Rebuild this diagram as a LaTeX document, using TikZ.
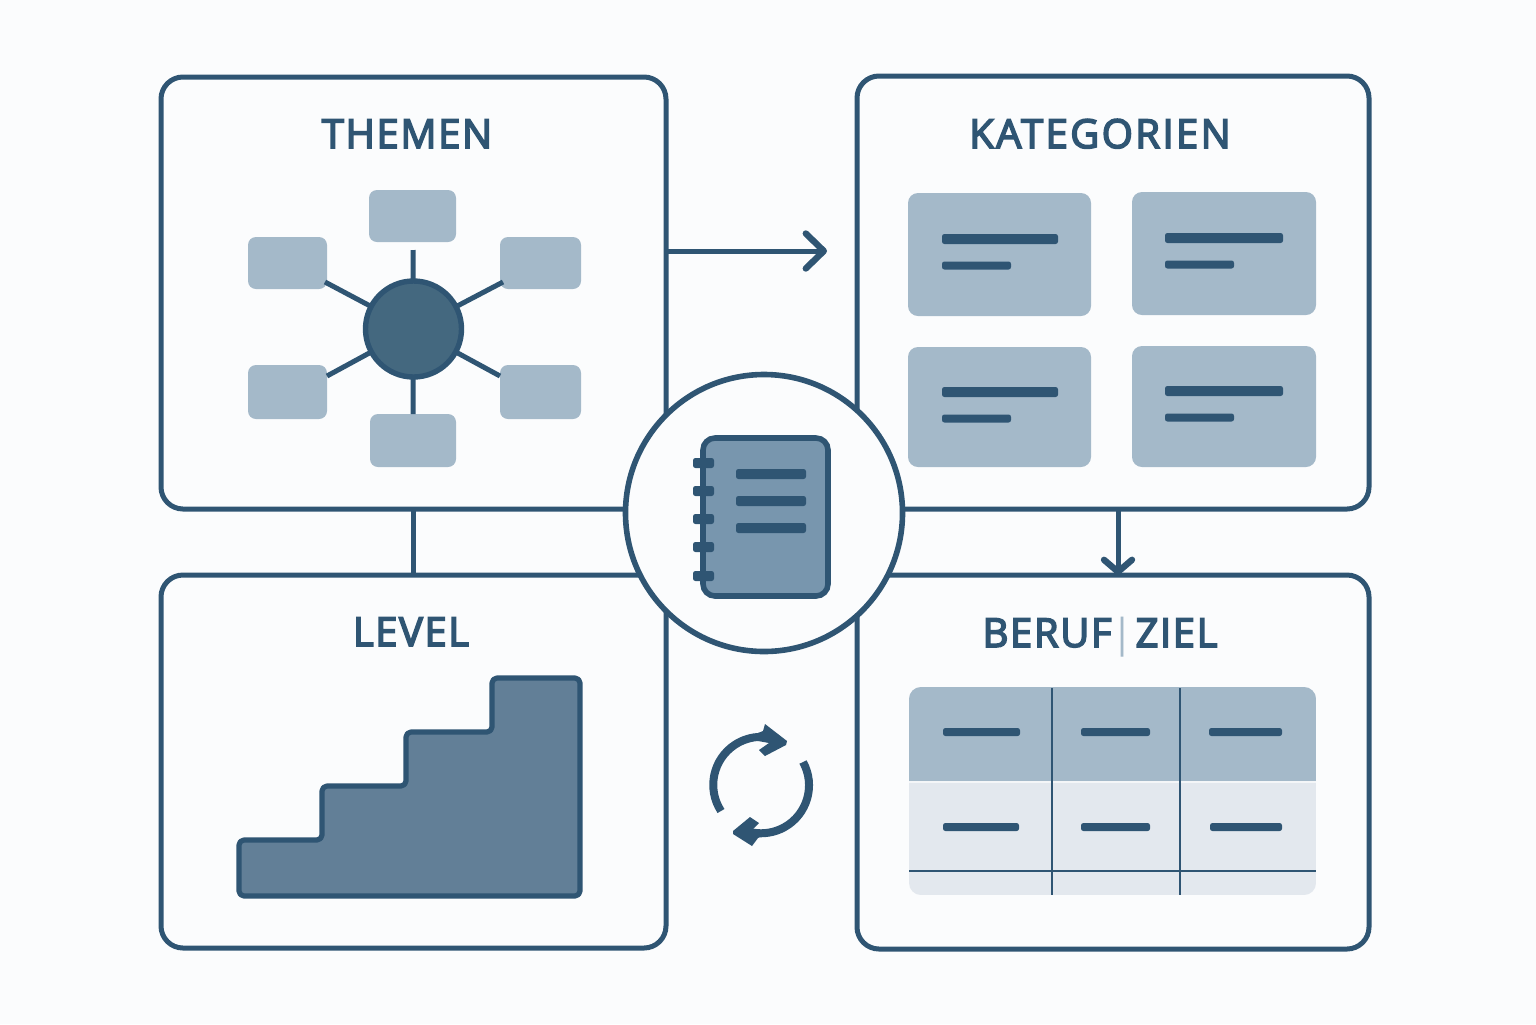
\documentclass[tikz,border=0pt]{standalone}
\usepackage{fontspec}
\setmainfont{Open Sans}
\newfontfamily\titlefont{Open Sans}[FakeBold=4,LetterSpace=4]
\usetikzlibrary{arrows.meta}
\definecolor{ink}{HTML}{2F5573}
\definecolor{bgc}{HTML}{FBFCFD}
\definecolor{light}{HTML}{A4B9C9}
\definecolor{pale}{HTML}{E3E8EE}
\definecolor{hubc}{HTML}{44687F}
\definecolor{stair}{HTML}{627F97}
\definecolor{book}{HTML}{7896AE}
\newcommand{\pill}[3]{\fill[ink,rounded corners=1.2pt] (#1,#3-5) rectangle (#2,#3+5);}
\newcommand{\cellpill}[3]{\fill[ink,rounded corners=1.2pt] (#1,#3-4) rectangle (#2,#3+4);}
\tikzset{
 x=0.5pt,y=-0.5pt,
 box/.style={rectangle,anchor=north west,inner sep=0pt,outer sep=0pt},
 panel/.style={box,draw=ink,line width=2.5pt,rounded corners=11pt,fill=bgc},
 sat/.style={box,fill=light,rounded corners=4pt},
 card/.style={box,fill=light,rounded corners=5pt},
 link/.style={draw=ink,line width=2.5pt},
 thinrule/.style={draw=ink,line width=0.6pt},
 paneltitle/.style={text=ink,font=\titlefont\fontsize{20}{22}\selectfont,inner sep=0pt,anchor=base},
 headtip/.style={-{Straight Barb[length=9pt,width=17.5pt,line width=3.2pt,round]}},
 smalltip/.style={-{Straight Barb[length=6pt,width=14pt,line width=3.2pt,round]}},
}
\begin{document}
\begin{tikzpicture}
\fill[bgc] (0,0) rectangle (1536,1024);
\useasboundingbox (0,0) rectangle (1536,1024);

\node[panel,minimum width=252.5pt,minimum height=216pt] (themen) at (161,77) {};
\node[panel,minimum width=256pt,minimum height=216.5pt] (kategorien) at (857,76) {};
\node[panel,minimum width=252.5pt,minimum height=186.5pt] (level) at (161,575) {};
\node[panel,minimum width=256pt,minimum height=187pt] (beruf) at (857,575) {};

\draw[link] (themen.south -| 413,0) -- (level.north -| 413,0);
\coordinate (arrowend) at (827,251);
\draw[link,headtip] (themen.east |- arrowend) -- (arrowend);
\draw[link,smalltip] (kategorien.south -| 1118,0) -- (beruf.north -| 1118,0);

\node[paneltitle] (t1) at (407,148) {THEMEN};
\node[paneltitle] (t2) at (1100,148) {\addfontfeature{LetterSpace=6}KATEGORIEN};
\node[paneltitle] (t3) at (411,646) {LEVEL};
\node[paneltitle] (t4) at (1100,647) {BERUF{\normalfont\fontsize{20}{22}\selectfont\color{light}|}\kern1pt ZIEL};

\node[sat,minimum width=43.5pt,minimum height=26pt] (s1) at (369,190) {};
\node[sat,minimum width=39.5pt,minimum height=26pt] (s2) at (248,237) {};
\node[sat,minimum width=40.5pt,minimum height=26pt] (s3) at (500,237) {};
\node[sat,minimum width=39.5pt,minimum height=27pt] (s4) at (248,365) {};
\node[sat,minimum width=40.5pt,minimum height=27pt] (s5) at (500,365) {};
\node[sat,minimum width=43pt,minimum height=26.5pt] (s6) at (370,414) {};
\coordinate (e1) at (413,250);
\coordinate (e2) at (325,282);
\coordinate (e3) at (503,282);
\coordinate (e4) at (327,376);
\coordinate (e5) at (500,376);
\coordinate (e6) at (413,414);
\coordinate (hubc0) at (413.5,329);
\foreach \e in {e1,e2,e3,e4,e5,e6}{\draw[link] (\e) -- (hubc0);}
\node[circle,draw=ink,fill=hubc,line width=2.7pt,minimum size=48pt,inner sep=0pt] (hub) at (hubc0) {};

\node[card,minimum width=91.5pt,minimum height=61.5pt] (c1) at (908,193) {};
\node[card,minimum width=92pt,minimum height=61.5pt] (c2) at (1132,192) {};
\node[card,minimum width=91.5pt,minimum height=60pt] (c3) at (908,347) {};
\node[card,minimum width=92pt,minimum height=60.5pt] (c4) at (1132,346) {};
\foreach \x/\y/\w in {942/239/116,1165/238/118,942/392/116,1165/391/118}{
  \pgfmathsetmacro{\xe}{\x+\w}
  \pgfmathsetmacro{\xs}{\x+69}
  \pill{\x}{\xe}{\y}
  \cellpill{\x}{\xs}{\y+26.5}
}

\draw[draw=ink,fill=stair,line width=2.6pt,line join=round,rounded corners=2.5pt]
  (239,840) -- (322,840) -- (322,786) -- (406,786) -- (406,732) -- (492,732) -- (492,678)
  -- (580,678) -- (580,896) -- (239,896) -- cycle;

\begin{scope}
\clip[rounded corners=6pt] (909,687) rectangle (1316,895);
\fill[pale] (909,687) rectangle (1316,895);
\fill[light] (909,687) rectangle (1316,781);
\fill[white!60!pale] (909,781) rectangle (1316,783);
\end{scope}
\draw[thinrule] (1052,688) -- (1052,895);
\draw[thinrule] (1180,688) -- (1180,895);
\draw[thinrule] (909,871) -- (1316,871);
\foreach \a/\b/\y in {943/1020/732,1081/1150/732,1209/1282/732,943/1019/827,1081/1150/827,1210/1282/827}{
  \cellpill{\a}{\b}{\y}
}

\node[circle,draw=ink,fill=bgc,line width=2.8pt,minimum size=138.5pt,inner sep=0pt] (centre) at (764,513) {};
\node[box,draw=ink,fill=book,line width=2.8pt,rounded corners=6pt,minimum width=62.5pt,minimum height=79pt] (nb) at (703,438) {};
\foreach \y in {463,491,519,547,576}{
  \pill{693}{714}{\y}
}
\foreach \y in {474,501,528}{
  \pill{736}{806}{\y}
}

\draw[draw=ink,line width=4pt] (721,811) arc[start angle=147,end angle=269,radius=48];
\draw[draw=ink,line width=4pt] (803,762) arc[start angle=-29,end angle=100,radius=48];
\fill[ink] (765,724) -- (787,741) -- (786,745) -- (765,756) -- (759,750) -- (769,743) -- (758,741) -- (758,733) -- (763,731) -- cycle;
\fill[ink] (733,831) -- (750,817) -- (759,823) -- (753,829) -- (762,834) -- (762,836) -- (758,838) -- (752,846) -- (733,834) -- cycle;
\end{tikzpicture}
\end{document}
